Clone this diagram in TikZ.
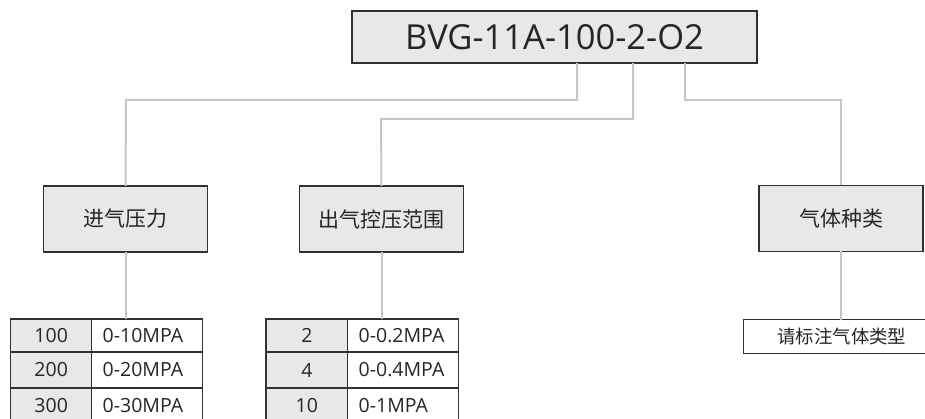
\documentclass[tikz,border=0pt]{standalone}
\usepackage{fontspec}
\setmainfont{Open Sans}
\newfontfamily\cjk{Noto Sans CJK SC}
\definecolor{boxfill}{HTML}{E8E8E6}
\definecolor{boxline}{HTML}{333030}
\definecolor{conn}{HTML}{C4C6C8}
\definecolor{txt}{HTML}{262626}
\begin{document}
\begin{tikzpicture}[x=1pt,y=-1pt,
  graybox/.style={draw=boxline,line width=1.4pt,fill=boxfill,inner sep=0pt,outer sep=0pt,anchor=north west},
  whitebox/.style={draw=boxline,line width=1.4pt,fill=white,inner sep=0pt,outer sep=0pt,anchor=north west},
  connector/.style={draw=conn,line width=2pt},
  cntext/.style={font=\cjk\fontsize{21}{25}\selectfont,text=txt},
  celltext/.style={font=\fontsize{19.5}{23}\selectfont,text=txt}]
\useasboundingbox (0,0) rectangle (925,419);
\clip (0,0) rectangle (925,419);
% top box
\node[graybox,minimum width=405pt,minimum height=52pt,font=\fontsize{34.5}{40}\selectfont,text=txt] (top) at (352,11) {BVG-11A-100-2-O2};
% category boxes
\node[graybox,minimum width=164pt,minimum height=66pt,cntext] (b1) at (43.5,186) {进气压力};
\node[graybox,minimum width=164pt,minimum height=66pt,cntext] (b2) at (299.5,186) {出气控压范围};
\node[graybox,minimum width=164pt,minimum height=66pt,cntext] (b3) at (759,185.5) {气体种类};
% table 1
\node[graybox,minimum width=81pt,minimum height=33pt,celltext] (t1a) at (10.7,319) {100};
\node[whitebox,minimum width=111pt,minimum height=33pt,celltext,text width=111pt,align=left] (t1b) at (91.7,319) {\hspace*{11pt}0-10MPA};
\node[graybox,minimum width=81pt,minimum height=36pt,celltext] (t1c) at (10.7,352) {200};
\node[whitebox,minimum width=111pt,minimum height=36pt,celltext,text width=111pt,align=left] (t1d) at (91.7,352) {\hspace*{11pt}0-20MPA};
\node[graybox,minimum width=81pt,minimum height=36pt,celltext] (t1e) at (10.7,388) {300};
\node[whitebox,minimum width=111pt,minimum height=36pt,celltext,text width=111pt,align=left] (t1f) at (91.7,388) {\hspace*{11pt}0-30MPA};
% table 2
\node[graybox,minimum width=81.7pt,minimum height=33pt,celltext] (t2a) at (266,319) {2};
\node[whitebox,minimum width=110.6pt,minimum height=33pt,celltext,text width=110.6pt,align=left] (t2b) at (347.7,319) {\hspace*{11pt}0-0.2MPA};
\node[graybox,minimum width=81.7pt,minimum height=36pt,celltext] (t2c) at (266,352) {4};
\node[whitebox,minimum width=110.6pt,minimum height=36pt,celltext,text width=110.6pt,align=left] (t2d) at (347.7,352) {\hspace*{11pt}0-0.4MPA};
\node[graybox,minimum width=81.7pt,minimum height=36pt,celltext] (t2e) at (266,388) {10};
\node[whitebox,minimum width=110.6pt,minimum height=36pt,celltext,text width=110.6pt,align=left] (t2f) at (347.7,388) {\hspace*{11pt}0-1MPA};
% gas type box
\node[whitebox,minimum width=197pt,minimum height=34pt,font=\cjk\fontsize{18.4}{22}\selectfont,text=txt] (g) at (743.3,319.5) {请标注气体类型};
% connectors
\draw[connector] ([xshift=225pt]top.south west) |- (126,100) -- (b1.north);
\draw[connector] ([xshift=281pt]top.south west) |- (381,119) -- (b2.north);
\draw[connector] ([xshift=333pt]top.south west) |- (841,100) -- (b3.north);
\draw[connector] (b1.south) -- (t1a.north -| b1.south);
\draw[connector] (b2.south) -- (t2a.north -| b2.south);
\draw[connector] (b3.south) -- (g.north -| b3.south);
\end{tikzpicture}
\end{document}
